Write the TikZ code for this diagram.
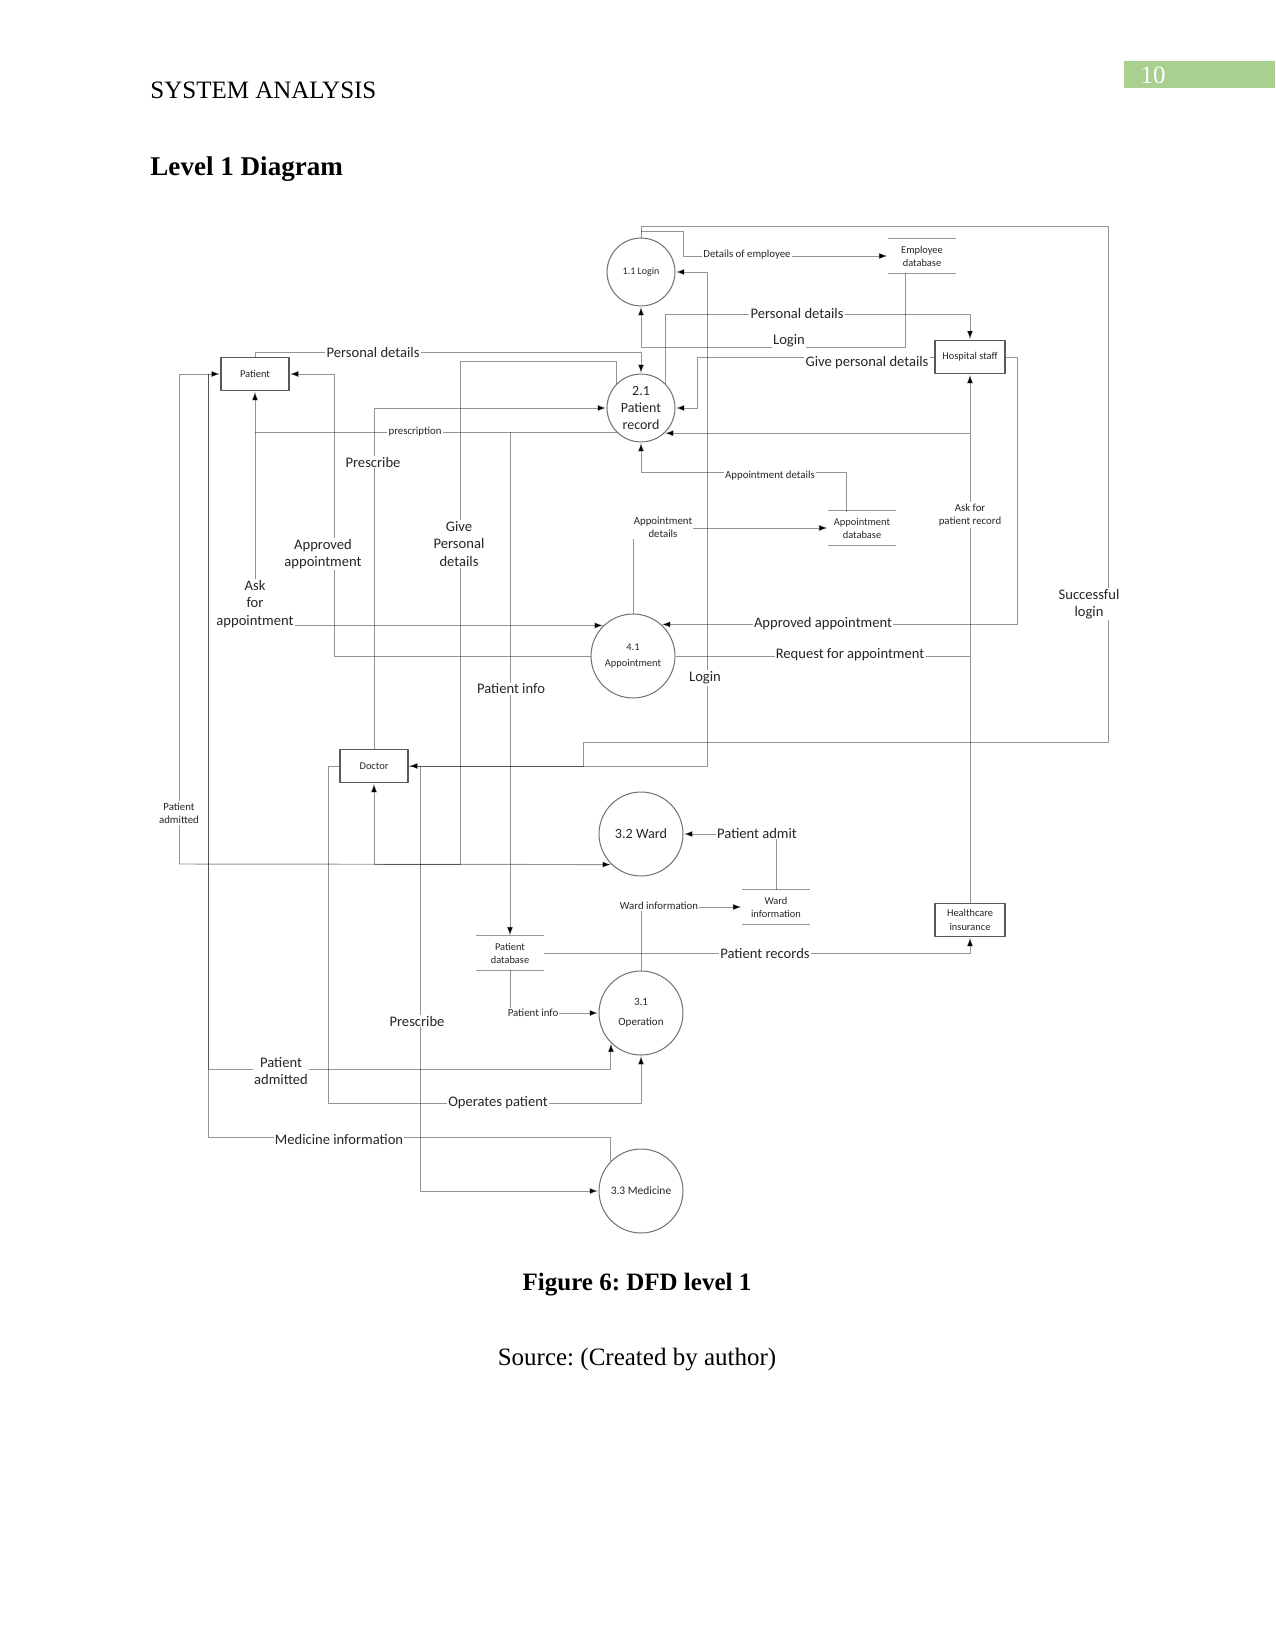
\documentclass[tikz,border=0pt]{standalone}
\usepackage{fontspec}
\setmainfont{Liberation Serif}
\newfontfamily\dfdfont{Carlito}
\usepackage{tikz}
\usetikzlibrary{arrows.meta, calc}
\definecolor{pagegreen}{RGB}{169,208,142}
\frenchspacing

\begin{document}
\begin{tikzpicture}[x=0.48pt, y=-0.48pt, line join=round,
        proc/.style={circle, draw=black!55, line width=0.5pt, inner sep=0pt, minimum size=40.3pt, align=center, text=black!85},
        ext/.style={rectangle, draw=black!65, line width=0.6pt, inner sep=0pt, minimum width=32.6pt, minimum height=16pt, align=center, text=black!85, font=\dfdfont\fontsize{5}{6.8}\selectfont},
        store/.style={inner sep=0pt, minimum width=32.3pt, minimum height=16pt, align=center, text=black!85, font=\dfdfont\fontsize{5}{6.2}\selectfont},
        storeline/.style={draw=black!40, line width=0.5pt},
        flow/.style={draw=black, draw opacity=0.42, line width=0.45pt, -{Latex[length=4.3pt, width=3pt]}},
        plain/.style={draw=black, draw opacity=0.42, line width=0.45pt},
        lbl/.style={fill=white, inner sep=0.6pt, align=center, text=black!85, font=\dfdfont\fontsize{7}{8.3}\selectfont},
        slbl/.style={fill=white, inner sep=0.6pt, align=center, text=black!85, font=\dfdfont\fontsize{5.2}{6.4}\selectfont}]
        \useasboundingbox (0,0) rectangle (1275,1651);

        % page head
        \fill[pagegreen] (1124,61) rectangle (1275,88);
        \node[text=white, font=\fontsize{12}{14}\selectfont] (pnum) at (1153,75) {10};
        \node[anchor=west, inner sep=0pt, font=\fontsize{12}{14}\selectfont] (hdr) at (150,90) {SYSTEM ANALYSIS};
        \node[anchor=west, inner sep=0pt, font=\bfseries\fontsize{13}{15}\selectfont] (ttl) at (150,169) {Level 1 Diagram};

        % processes
        \node[proc, minimum size=32.6pt, font=\dfdfont\fontsize{4.8}{6}\selectfont] (login) at (641,272) {1.1 Login};
        \node[proc, minimum size=32.6pt, font=\dfdfont\fontsize{6.7}{8.3}\selectfont] (prec) at (641,408) {2.1\\Patient\\record};
        \node[proc, font=\dfdfont\fontsize{5}{8}\selectfont] (appt) at (633,656) {4.1\\Appointment};
        \node[proc, font=\dfdfont\fontsize{6.8}{8}\selectfont] (ward) at (641,834) {3.2 Ward};
        \node[proc, font=\dfdfont\fontsize{5.3}{9.5}\selectfont] (oper) at (641,1013) {3.1\\Operation};
        \node[proc, font=\dfdfont\fontsize{5.5}{7}\selectfont] (med) at (641,1191) {3.3 Medicine};

        % external entities
        \node[ext] (patient) at (255,374) {Patient};
        \node[ext, minimum width=33.6pt] (staff) at (970,357) {Hospital staff};
        \node[ext] (doctor) at (374,766) {Doctor};
        \node[ext, minimum width=33.6pt] (insur) at (970,920) {Healthcare\\insurance};

        % data stores (open boxes)
        \node[store] (empdb) at (922,256) {Employee\\database};
        \node[store] (apdb) at (862,528) {Appointment\\database};
        \node[store] (wardinfo) at (776,907) {Ward\\information};
        \node[store] (patdb) at (510,953) {Patient\\database};
        \draw[storeline] (empdb.north west) -- (empdb.north east) (empdb.south west) -- (empdb.south east);
        \draw[storeline] (apdb.north west) -- (apdb.north east) (apdb.south west) -- (apdb.south east);
        \draw[storeline] (wardinfo.north west) -- (wardinfo.north east) (wardinfo.south west) -- (wardinfo.south east);
        \draw[storeline] (patdb.north west) -- (patdb.north east) (patdb.south west) -- (patdb.south east);

        % junctions where flows split or merge
        \coordinate (ltop) at (641,226);
        \coordinate (lstub) at (641,231);
        \coordinate (lright) at (1108,742);
        \coordinate (ljoin) at (583,766);
        \coordinate (jpre) at (420,766);
        \coordinate (empout) at (905,273);
        \coordinate (adtop) at (846,512);
        \coordinate (jpat) at (prec.-135 -| patient.south);
        \coordinate (jinfo) at (prec.-135 -| patdb.north);
        \coordinate (jrec) at (prec.-47 -| staff.south);
        \coordinate (jreq) at (appt.east -| staff.south);
        \coordinate (jadm) at (179,864);
        \coordinate (jmed) at (208,374);

        % 1.1 Login flows
        \draw[flow] (login.north) -- (ltop) -| (lright) -| (ljoin) -- (doctor.east);
        \draw[flow] (doctor.east) -- (707,766) |- (login.east);
        \draw[flow] (lstub) -| (683,256) -- (empdb.west);
        \draw[flow] (empout) |- (641,347) -- (login.south);

        % 2.1 Patient record flows
        \draw[flow] (prec.45) |- (970,314) -- (staff.north);
        \draw[flow] (staff.west) -- (697,357) |- (prec.east);
        \draw[flow] (insur.north) -- (staff.south);
        \draw[flow] (jrec) -- (prec.-47);
        \draw[flow] (adtop) |- (641,472) -- (prec.south);
        \draw[flow] (patient.north) -- ++(0,-4) -| (prec.north);
        \draw[flow] (prec.-135) -| (patient.south);
        \draw[flow] (doctor.north) |- (prec.west);
        \draw[flow] (prec.135) -- ++(0,-22) -| (460,864) -| (doctor.south);
        \draw[flow] (jinfo) -- (patdb.north);

        % 4.1 Appointment flows
        \draw[flow] (staff.east) -- (1017,357) |- (appt.48);
        \draw[plain] (appt.east) -- (jreq);
        \draw[flow] (appt.north) |- (apdb.west);
        \draw[flow] (jpat) |- (appt.134);
        \draw[flow] (appt.west) -- (334,656) |- (patient.east);

        % ward, operation and medicine flows
        \draw[flow] (jadm) |- (patient.west);
        \draw[flow] (jadm) -- (ward.-134);
        \draw[plain] (med.136) |- (208,1137) -- (jmed);
        \draw[flow] (jmed) -- (208,1069) -| (oper.-135);
        \draw[flow] (doctor.west) -- (328,766) |- (641,1103) -- (oper.south);
        \draw[flow] (jpre) |- (med.west);
        \draw[flow] (oper.north) |- (wardinfo.west);
        \draw[flow] (wardinfo.north) |- (ward.east);
        \draw[flow] (patdb.east) -| (insur.south);
        \draw[flow] (patdb.south) |- (oper.west);

        % flow labels
        \node[slbl] (t1) at (747,255) {Details of employee};
        \node[lbl] (t2) at (789,341) {Login};
        \node[lbl] (t3) at (797,313) {Personal details};
        \node[lbl] (t4) at (867,363) {Give personal details};
        \node[lbl] (t5) at (373,352) {Personal details};
        \node[slbl] (t6) at (415,432) {prescription};
        \node[lbl] (t7) at (373,462) {Prescribe};
        \node[slbl] (t8) at (770,476) {Appointment details};
        \node[slbl] (t9) at (663,527) {Appointment\\details};
        \node[slbl] (t10) at (970,515) {Ask for\\patient record};
        \node[lbl] (t11) at (323,554) {Approved\\appointment};
        \node[lbl] (t12) at (459,544) {Give\\Personal\\details};
        \node[lbl] (t13) at (255,604) {Ask\\for\\appointment};
        \node[lbl] (t14) at (1089,604) {Successful\\login};
        \node[lbl] (t15) at (823,624) {Approved appointment};
        \node[lbl] (t16) at (850,655) {Request for appointment};
        \node[lbl] (t17) at (705,678) {Login};
        \node[lbl] (t18) at (511,689) {Patient info};
        \node[slbl] (t19) at (179,813) {Patient\\admitted};
        \node[lbl] (t20) at (757,833) {Patient admit};
        \node[slbl] (t21) at (659,906) {Ward information};
        \node[lbl] (t22) at (765,953) {Patient records};
        \node[slbl] (t23) at (533,1013) {Patient info};
        \node[lbl] (t24) at (417,1021) {Prescribe};
        \node[lbl] (t25) at (281,1071) {Patient\\admitted};
        \node[lbl] (t26) at (498,1103) {Operates patient};
        \node[lbl] (t27) at (339,1139) {Medicine information};

        % caption
        \node[font=\bfseries\fontsize{12}{14}\selectfont] (cap) at (637,1285) {Figure 6: DFD level 1};
        \node[font=\fontsize{12}{14}\selectfont] (src) at (637,1360) {Source: (Created by author)};
\end{tikzpicture}
\end{document}
